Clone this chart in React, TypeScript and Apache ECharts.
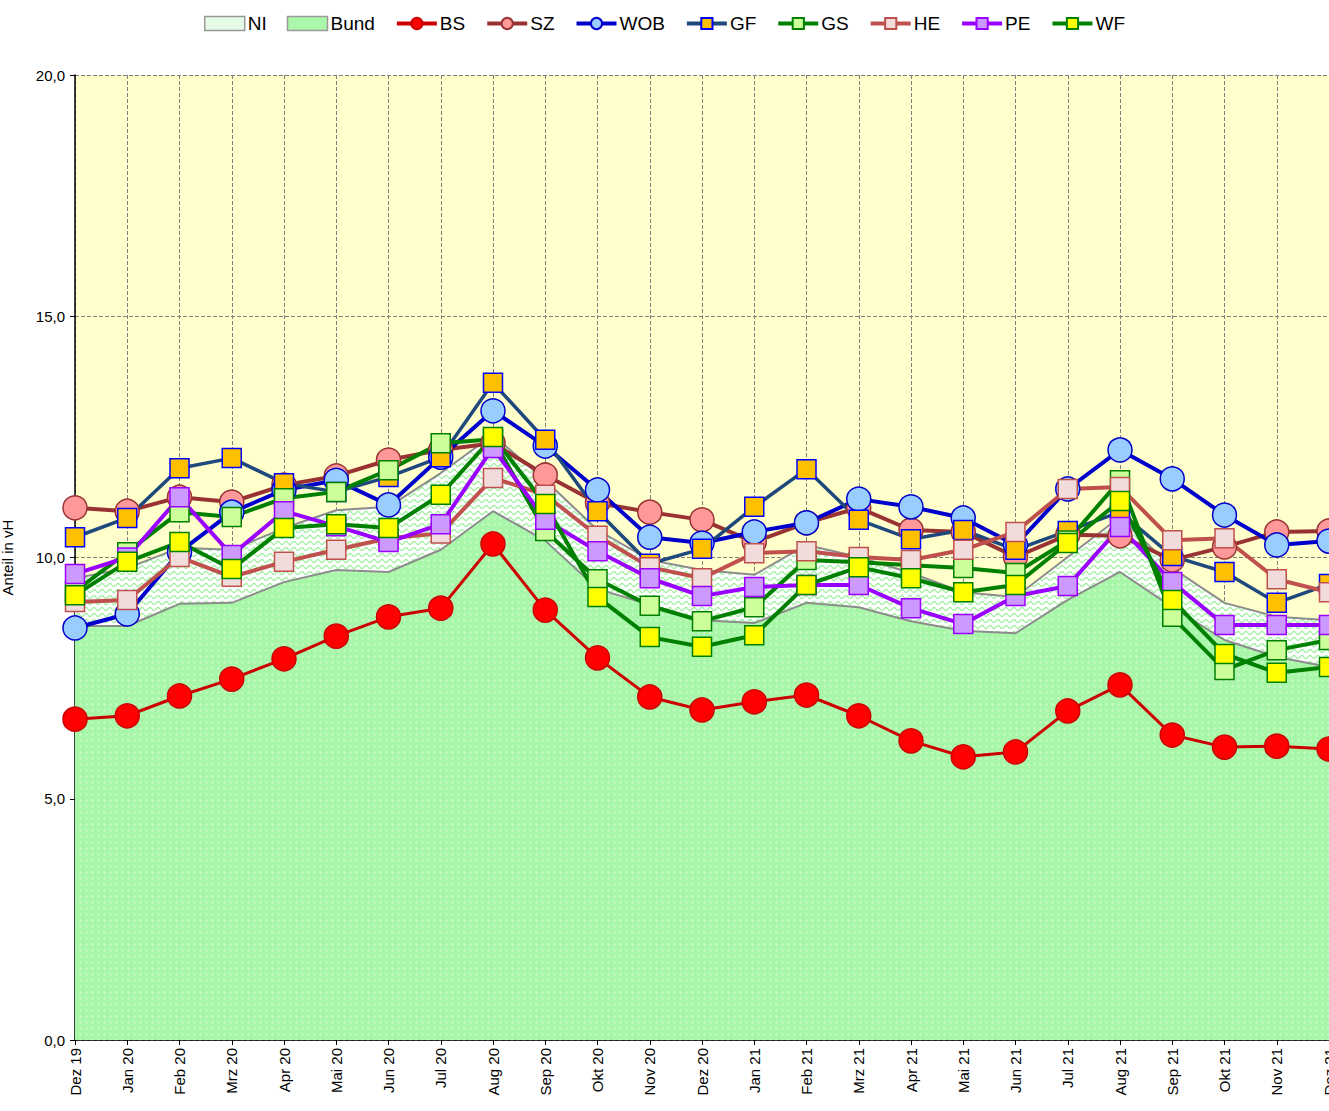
import React, { useEffect, useRef } from "react";
import * as echarts from "echarts";

const categories = [
  "Dez 19", "Jan 20", "Feb 20", "Mrz 20", "Apr 20", "Mai 20", "Jun 20", "Jul 20", "Aug 20", "Sep 20", "Okt 20", "Nov 20", "Dez 20",
  "Jan 21", "Feb 21", "Mrz 21", "Apr 21", "Mai 21", "Jun 21", "Jul 21", "Aug 21", "Sep 21", "Okt 21", "Nov 21", "Dez 21",
];

const NI = [9.57, 9.78, 10.2, 10.16, 10.61, 10.98, 11.05, 11.75, 12.54, 11.6, 10.57, 9.95, 9.74, 9.64, 10.26, 10.01, 9.68, 9.28, 9.18, 10.01, 10.84, 9.78, 9.06, 8.77, 8.7];
const Bund = [8.58, 8.58, 9.04, 9.06, 9.49, 9.74, 9.7, 10.16, 10.96, 10.35, 9.35, 9.02, 8.7, 8.64, 9.06, 8.97, 8.68, 8.48, 8.43, 9.12, 9.7, 8.97, 8.29, 7.94, 7.73];
const BS = [6.65, 6.72, 7.13, 7.48, 7.9, 8.37, 8.77, 8.95, 10.28, 8.91, 7.92, 7.11, 6.84, 7.01, 7.15, 6.72, 6.2, 5.87, 5.97, 6.82, 7.36, 6.32, 6.07, 6.09, 6.03];
const SZ = [11.03, 10.96, 11.25, 11.15, 11.5, 11.69, 12.02, 12.23, 12.37, 11.71, 11.13, 10.94, 10.78, 10.32, 10.72, 11.03, 10.57, 10.53, 10.01, 10.47, 10.45, 9.95, 10.22, 10.53, 10.55];
const WOB = [8.54, 8.83, 10.11, 10.94, 11.4, 11.6, 11.09, 12.08, 13.04, 12.31, 11.4, 10.42, 10.3, 10.53, 10.72, 11.21, 11.05, 10.82, 10.26, 11.42, 12.23, 11.63, 10.88, 10.26, 10.34];
const GF = [10.42, 10.82, 11.85, 12.06, 11.54, 11.36, 11.67, 12.08, 13.62, 12.44, 10.96, 9.87, 10.18, 11.05, 11.83, 10.78, 10.38, 10.57, 10.16, 10.55, 10.94, 10.03, 9.7, 9.06, 9.45];
const GS = [9.3, 10.11, 10.94, 10.84, 11.23, 11.36, 11.81, 12.37, 12.45, 10.55, 9.55, 9.0, 8.68, 8.97, 9.95, 9.9, 9.84, 9.78, 9.68, 10.35, 11.6, 8.77, 7.67, 8.08, 8.29];
const HE = [9.08, 9.12, 10.01, 9.6, 9.91, 10.16, 10.4, 10.5, 11.65, 11.3, 10.45, 9.8, 9.57, 10.09, 10.13, 10.01, 9.95, 10.16, 10.53, 11.42, 11.46, 10.36, 10.4, 9.55, 9.28];
const PE = [9.66, 10.0, 11.25, 10.05, 10.96, 10.65, 10.32, 10.69, 12.27, 10.78, 10.13, 9.57, 9.2, 9.39, 9.43, 9.43, 8.95, 8.62, 9.2, 9.41, 10.63, 9.49, 8.6, 8.6, 8.6];
const WF = [9.22, 9.91, 10.32, 9.76, 10.61, 10.69, 10.61, 11.3, 12.5, 11.11, 9.18, 8.35, 8.15, 8.39, 9.43, 9.8, 9.57, 9.28, 9.43, 10.3, 11.17, 9.12, 8.0, 7.61, 7.73];

const yTicks = [0, 5, 10, 15, 20];

const FONT = "Liberation Sans, Arial, sans-serif";

function makeWavePattern(): HTMLCanvasElement {
  const c = document.createElement("canvas");
  c.width = 8;
  c.height = 6;
  const ctx = c.getContext("2d")!;
  ctx.fillStyle = "#FFFFFF";
  ctx.fillRect(0, 0, 8, 6);
  ctx.strokeStyle = "#A0F0A0";
  ctx.lineWidth = 1.3;
  ctx.beginPath();
  for (let x = 0; x <= 8; x += 0.5) {
    const y = 3 + 1.5 * Math.sin((x / 8) * Math.PI * 2);
    if (x === 0) ctx.moveTo(x, y);
    else ctx.lineTo(x, y);
  }
  ctx.stroke();
  return c;
}

function makeDotPattern(): HTMLCanvasElement {
  const c = document.createElement("canvas");
  c.width = 6;
  c.height = 6;
  const ctx = c.getContext("2d")!;
  ctx.fillStyle = "#A8F7A8";
  ctx.fillRect(0, 0, 6, 6);
  ctx.fillStyle = "#C4FAC4";
  ctx.fillRect(2, 1, 1, 3);
  ctx.fillRect(1, 2, 3, 1);
  return c;
}

function lineSeries(name: string, data: number[], line: string, fill: string, border: string, symbol: string, size: number, width: number) {
  return {
    name,
    type: "line",
    data,
    symbol,
    symbolSize: size,
    lineStyle: { color: line, width },
    itemStyle: { color: fill, borderColor: border, borderWidth: 1.5 },
    emphasis: { disabled: true },
  };
}

export default function App() {
  const ref = useRef<HTMLDivElement>(null);
  useEffect(() => {
    if (!ref.current) return;
    const chart = echarts.init(ref.current, undefined, { renderer: "svg" });
    const wave = { image: makeWavePattern(), repeat: "repeat" };
    const dots = { image: makeDotPattern(), repeat: "repeat" };
    chart.setOption({
      animation: false,
      textStyle: { fontFamily: FONT },
      legend: {
        top: 9,
        left: "center",
        itemWidth: 40,
        itemHeight: 14,
        itemGap: 20,
        lineStyle: { width: 4 },
        textStyle: { fontSize: 19, color: "#000", fontFamily: FONT, padding: [0, 0, 0, -2] },
        data: [
          { name: "NI", icon: "rect", itemStyle: { color: "#E6FBE6", borderColor: "#999999", borderWidth: 1.5 } },
          { name: "Bund", icon: "rect", itemStyle: { color: "#AAF7AA", borderColor: "#999999", borderWidth: 1.5 } },
          "BS", "SZ", "WOB", "GF", "GS", "HE", "PE", "WF",
        ],
      },
      grid: {
        left: 75,
        top: 75,
        right: 0,
        bottom: 71,
        show: true,
        backgroundColor: "#FFFFCC",
        borderWidth: 0,
        containLabel: false,
        outerBoundsMode: "none",
      },
      xAxis: {
        type: "category",
        data: categories,
        boundaryGap: false,
        axisLine: { lineStyle: { color: "#000", width: 1.5 } },
        axisTick: { show: true, length: 5, lineStyle: { color: "#000" } },
        axisLabel: { rotate: 90, fontSize: 15, color: "#000", margin: 8, fontFamily: FONT },
        splitLine: { show: true, lineStyle: { color: "#808080", type: "dashed", width: 1 } },
      },
      yAxis: {
        type: "value",
        min: yTicks[0],
        max: yTicks[yTicks.length - 1],
        interval: 5,
        name: "Anteil in vH",
        nameLocation: "middle",
        nameGap: 60,
        nameTextStyle: { fontSize: 15, color: "#000", fontFamily: FONT },
        axisLine: { show: true, lineStyle: { color: "#000", width: 1.5 } },
        axisTick: { show: true, length: 5, lineStyle: { color: "#000" } },
        axisLabel: {
          fontSize: 15,
          color: "#000",
          margin: 10,
          fontFamily: FONT,
          formatter: (v: number) => v.toFixed(1).replace(".", ","),
        },
        splitLine: { show: true, lineStyle: { color: "#808080", type: "dashed", width: 1 } },
      },
      series: [
        {
          name: "NI",
          type: "line",
          data: NI,
          symbol: "none",
          lineStyle: { color: "#8C8C8C", width: 2 },
          itemStyle: { color: "#E6FBE6", borderColor: "#999999" },
          areaStyle: { color: wave, opacity: 1 },
          emphasis: { disabled: true },
        },
        {
          name: "Bund",
          type: "line",
          data: Bund,
          symbol: "none",
          lineStyle: { color: "#8C8C8C", width: 2 },
          itemStyle: { color: "#AAF7AA", borderColor: "#999999" },
          areaStyle: { color: dots, opacity: 1 },
          emphasis: { disabled: true },
        },
        lineSeries("BS", BS, "#CC0000", "#FF0000", "#CC0000", "circle", 24, 3),
        lineSeries("SZ", SZ, "#993333", "#FF9999", "#993333", "circle", 24, 4),
        lineSeries("WOB", WOB, "#0000CC", "#99CCFF", "#0000CC", "circle", 24, 4),
        lineSeries("GF", GF, "#1F497D", "#FFC000", "#0000FF", "rect", 19, 3.5),
        lineSeries("GS", GS, "#008000", "#CCFF99", "#008000", "rect", 19, 4),
        lineSeries("HE", HE, "#C0504D", "#F2DCDB", "#C0504D", "rect", 19, 4),
        lineSeries("PE", PE, "#9900FF", "#CC99FF", "#9900FF", "rect", 19, 4),
        lineSeries("WF", WF, "#008000", "#FFFF00", "#008000", "rect", 19, 4),
      ],
    });
    return () => chart.dispose();
  }, []);
  return <div ref={ref} style={{ position: "absolute", left: 0, top: 0, width: 1329, height: 1111 }} />;
}
